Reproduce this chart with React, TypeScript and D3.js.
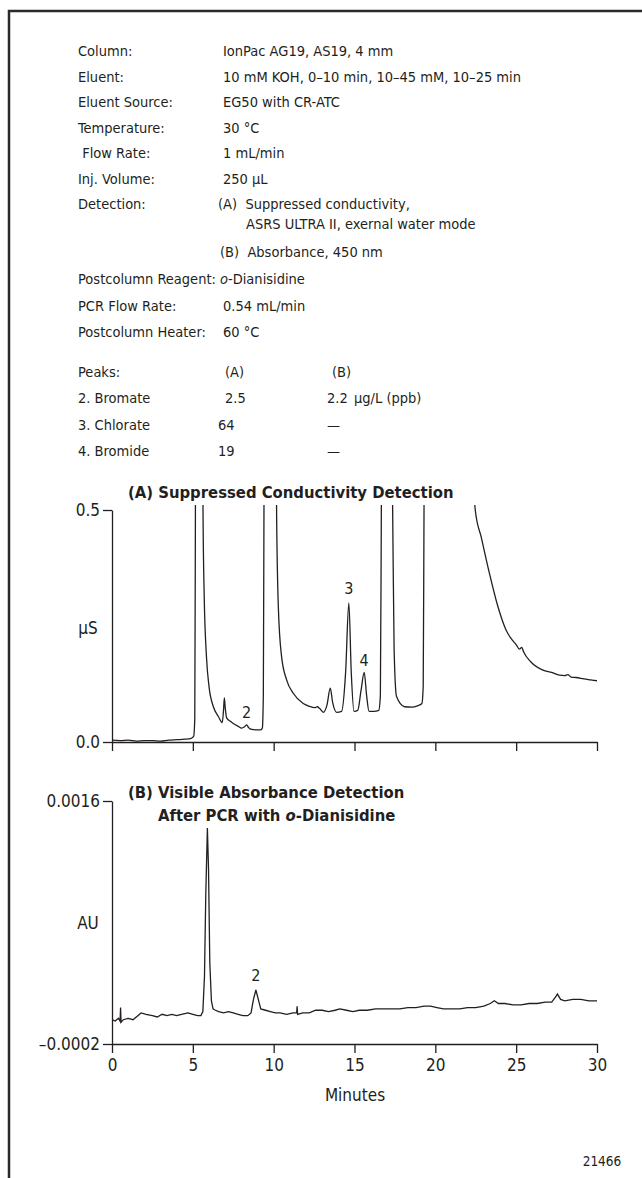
import { useRef, useEffect } from "react";
import * as d3 from "d3";

const conditionLabels = [
  "Column:",
  "Eluent:",
  "Eluent Source:",
  "Temperature:",
  " Flow Rate:",
  "Inj. Volume:",
  "Detection:",
];
const conditionValues = [
  "IonPac AG19, AS19, 4 mm",
  "10 mM KOH, 0–10 min, 10–45 mM, 10–25 min",
  "EG50 with CR-ATC",
  "30 °C",
  "1 mL/min",
  "250 µL",
  "(A)  Suppressed conductivity,",
];

const pcrLabels = ["Postcolumn Reagent:", "PCR Flow Rate:", "Postcolumn Heater:"];
const pcrValues = ["o-Dianisidine", "0.54 mL/min", "60 °C"];

const peakNames = ["2. Bromate", "3. Chlorate", "4. Bromide"];
const peakAmountsA = ["2.5", "64", "19"];
const peakAmountsB = ["2.2", "—", "—"];

const minuteTicks = [0, 5, 10, 15, 20, 25, 30];
const conductivityTicks = [0, 0.5];
const absorbanceTicks = [-0.0002, 0.0016];
const absorbanceTickLabels = ["–0.0002", "0.0016"];

// [minutes, µS]
const conductivityTrace = [
  [0, 0.004], [0.5, 0.003], [1, 0.004], [1.5, 0.002], [2, 0.003], [2.5, 0.003],
  [3, 0.002], [3.5, 0.004], [4, 0.005], [4.5, 0.006], [4.9, 0.008], [5.05, 0.012],
  [5.12, 0.05], [5.16, 0.5], [5.25, 1.5], [5.4, 2.5], [5.55, 1.2], [5.63, 0.5],
  [5.7, 0.32], [5.85, 0.18], [6.0, 0.12], [6.27, 0.076], [6.58, 0.055], [6.82, 0.042],
  [6.9, 0.07], [6.95, 0.095], [7.0, 0.075], [7.09, 0.052], [7.3, 0.045], [7.5, 0.04],
  [7.8, 0.034], [8.02, 0.03], [8.2, 0.033], [8.33, 0.037], [8.45, 0.031], [8.64, 0.027],
  [9.0, 0.026], [9.2, 0.026], [9.3, 0.03], [9.36, 0.1], [9.4, 0.5], [9.6, 2],
  [9.9, 2.5], [10.1, 1], [10.18, 0.5], [10.29, 0.29], [10.49, 0.184], [10.8, 0.134],
  [11.21, 0.105], [11.83, 0.083], [12.2, 0.077], [12.55, 0.074], [12.7, 0.076], [12.85, 0.072],
  [13.07, 0.064], [13.3, 0.08], [13.5, 0.116], [13.65, 0.085], [13.9, 0.064], [14.2, 0.066],
  [14.45, 0.15], [14.65, 0.3], [14.8, 0.15], [14.97, 0.066], [15.2, 0.068], [15.4, 0.11],
  [15.6, 0.15], [15.75, 0.1], [15.9, 0.066], [16.2, 0.066], [16.5, 0.068], [16.6, 0.1],
  [16.66, 0.5], [16.9, 2], [17.1, 1], [17.36, 0.5], [17.45, 0.2], [17.6, 0.098],
  [18.1, 0.076], [18.55, 0.075], [18.9, 0.078], [19.17, 0.083], [19.25, 0.12], [19.3, 0.5],
  [20, 3], [21, 2], [22, 0.8], [22.47, 0.5], [22.85, 0.44], [23.35, 0.363],
  [23.87, 0.292], [24.38, 0.241], [24.75, 0.22], [25.0, 0.21], [25.2, 0.2], [25.35, 0.204],
  [25.45, 0.195], [25.9, 0.173], [26.66, 0.155], [27.2, 0.15], [27.68, 0.144], [28.0, 0.143],
  [28.2, 0.145], [28.4, 0.14], [28.7, 0.139], [29.2, 0.136], [29.6, 0.134], [30, 0.132],
];

// [minutes, AU]
const absorbanceTrace = [
  [0, -0.00002], [0.2, -0.00003], [0.4, -0.00001], [0.5, -0.00003], [0.53, 0.00007], [0.56, -0.00004],
  [0.7, -0.00002], [1.0, -0.00001], [1.3, -0.00002], [1.6, 0.00001], [1.8, 0.00003], [2.1, 0.00002],
  [2.5, 0.00001], [2.8, 0.0], [3.1, 0.00002], [3.4, 0.00001], [3.7, 0.00002], [4.0, 0.00001],
  [4.3, 0.00002], [4.7, 0.00003], [5.0, 0.00002], [5.3, 0.00001], [5.5, 0.00001], [5.62, 0.00004],
  [5.72, 0.0003], [5.8, 0.0009], [5.9, 0.0014], [5.97, 0.0011], [6.05, 0.0004], [6.15, 0.00012],
  [6.25, 0.00006], [6.4, 0.00005], [6.6, 0.00004], [6.9, 0.00003], [7.2, 0.00004], [7.5, 0.00003],
  [7.8, 0.00002], [8.1, 0.00001], [8.4, 0.00001], [8.6, 0.00003], [8.75, 0.00013], [8.9, 0.0002],
  [9.05, 0.00013], [9.2, 0.00006], [9.5, 0.00005], [9.8, 0.00004], [10.1, 0.00003], [10.4, 0.00003],
  [10.8, 0.00002], [11.2, 0.00003], [11.42, 0.00003], [11.45, 0.00008], [11.48, 0.00002], [11.8, 0.00003],
  [12.2, 0.00003], [12.6, 0.00005], [13.0, 0.00005], [13.4, 0.00004], [13.8, 0.00005], [14.1, 0.00006],
  [14.5, 0.00005], [14.9, 0.00004], [15.3, 0.00005], [15.8, 0.00005], [16.3, 0.00006], [16.8, 0.00006],
  [17.3, 0.00006], [17.8, 0.00006], [18.3, 0.00007], [18.8, 0.00007], [19.3, 0.00008], [19.7, 0.00008],
  [20.1, 0.00007], [20.5, 0.00006], [21.0, 0.00006], [21.5, 0.00006], [22.0, 0.00007], [22.5, 0.00007],
  [23.0, 0.00008], [23.4, 0.0001], [23.65, 0.00012], [23.9, 0.0001], [24.3, 0.0001], [24.8, 0.00009],
  [25.3, 0.00009], [25.8, 0.0001], [26.3, 0.0001], [26.8, 0.00011], [27.2, 0.00011], [27.45, 0.00015],
  [27.55, 0.00017], [27.75, 0.00013], [28.0, 0.00012], [28.5, 0.00013], [29.0, 0.00013], [29.5, 0.00012],
  [30, 0.00012],
];

const peakNumbersA = ["2", "3", "4"];
const peakTimesA = [8.33, 14.65, 15.6];
const peakLabelLevelsA = [0.052, 0.319, 0.164];
const peakNumbersB = ["2"];
const peakTimesB = [8.9];
const peakLabelLevelsB = [0.00027];

const W = 642;
const H = 1178;
const font = "'DejaVu Sans Condensed', 'Liberation Sans Narrow', 'Roboto', sans-serif";
const ink = "#231f20";

function App() {
  const svgRef = useRef(null);

  useEffect(() => {
    const svg = d3.select(svgRef.current);
    svg.selectAll("*").remove();

    // frame
    svg.append("path")
      .attr("d", `M9,${H} L9,11 L${W},11`)
      .attr("fill", "none")
      .attr("stroke", "#2a2a2a")
      .attr("stroke-width", 2.5);

    const text = svg.append("g")
      .attr("font-family", font)
      .attr("font-size", 14.5)
      .attr("fill", ink);

    const labelX = 78;
    const valueX = 223;
    const rowGap = 25.5;
    conditionLabels.forEach((l, i) => {
      const y = 56 + i * rowGap;
      text.append("text").attr("x", labelX).attr("y", y).attr("xml:space", "preserve").text(l);
      text.append("text").attr("x", i === 6 ? 218 : valueX).attr("y", y).attr("xml:space", "preserve").text(conditionValues[i]);
    });
    text.append("text").attr("x", 246).attr("y", 229).text("ASRS ULTRA II, exernal water mode");
    text.append("text").attr("x", 220).attr("y", 257).attr("xml:space", "preserve").text("(B)  Absorbance, 450 nm");

    pcrLabels.forEach((l, i) => {
      const y = 284 + i * 26.5;
      text.append("text").attr("x", labelX).attr("y", y).text(l);
      const t = text.append("text").attr("x", i === 0 ? 220 : valueX).attr("y", y);
      if (pcrValues[i].startsWith("o-")) {
        t.append("tspan").attr("font-style", "italic").text("o");
        t.append("tspan").text(pcrValues[i].slice(1));
      } else t.text(pcrValues[i]);
    });

    text.append("text").attr("x", labelX).attr("y", 377).text("Peaks:");
    text.append("text").attr("x", 225).attr("y", 377).text("(A)");
    text.append("text").attr("x", 332).attr("y", 377).text("(B)");
    peakNames.forEach((n, i) => {
      const y = 403 + i * 26.5;
      text.append("text").attr("x", labelX).attr("y", y).text(n);
      text.append("text").attr("x", i === 0 ? 225 : 218).attr("y", y).text(peakAmountsA[i]);
      text.append("text").attr("x", 327).attr("y", y).text(peakAmountsB[i]);
    });
    text.append("text").attr("x", 354).attr("y", 403).text("µg/L (ppb)");

    const x = d3.scaleLinear().domain([0, 30]).range([112, 597]);
    const yA = d3.scaleLinear().domain([0, 0.5]).range([742, 510]);
    const yB = d3.scaleLinear().domain([-0.0002, 0.0016]).range([1044, 801]);

    const styleAxis = (g, size) => {
      g.selectAll("path,line").attr("stroke", ink).attr("stroke-width", 1.3);
      g.selectAll("text").attr("font-family", font).attr("font-size", size).attr("fill", ink);
    };

    // chart A
    svg.append("text")
      .attr("x", 128).attr("y", 498)
      .attr("font-family", font).attr("font-size", 16.5).attr("font-weight", "bold").attr("fill", ink)
      .text("(A) Suppressed Conductivity Detection");

    svg.append("defs").append("clipPath").attr("id", "clipA")
      .append("rect").attr("x", 112).attr("y", 505).attr("width", 490).attr("height", 240);

    svg.append("path")
      .datum(conductivityTrace)
      .attr("clip-path", "url(#clipA)")
      .attr("fill", "none")
      .attr("stroke", ink)
      .attr("stroke-width", 1.3)
      .attr("d", d3.line().x((d) => x(d[0])).y((d) => yA(d[1])).curve(d3.curveMonotoneX));

    svg.append("g").attr("transform", "translate(0,742)")
      .call(d3.axisBottom(x).tickValues(minuteTicks).tickSize(9).tickSizeOuter(0).tickFormat(() => ""))
      .call((g) => styleAxis(g, 17));
    svg.append("g").attr("transform", "translate(112,0)")
      .call(d3.axisLeft(yA).tickValues(conductivityTicks).tickSize(9).tickSizeOuter(0).tickPadding(3).tickFormat(d3.format(".1f")))
      .call((g) => styleAxis(g, 17));
    svg.append("text").attr("x", 88).attr("y", 634).attr("text-anchor", "middle")
      .attr("font-family", font).attr("font-size", 17).attr("fill", ink).text("µS");

    peakNumbersA.forEach((n, i) => {
      svg.append("text").attr("x", x(peakTimesA[i])).attr("y", yA(peakLabelLevelsA[i]))
        .attr("text-anchor", "middle").attr("font-family", font).attr("font-size", 16).attr("fill", ink).text(n);
    });

    // chart B
    const titleB = svg.append("g").attr("font-family", font).attr("font-size", 16.5).attr("font-weight", "bold").attr("fill", ink);
    titleB.append("text").attr("x", 128).attr("y", 798).text("(B) Visible Absorbance Detection");
    const t2 = titleB.append("text").attr("x", 158).attr("y", 821);
    t2.append("tspan").text("After PCR with ");
    t2.append("tspan").attr("font-style", "italic").text("o");
    t2.append("tspan").text("-Dianisidine");

    svg.append("path")
      .datum(absorbanceTrace)
      .attr("fill", "none")
      .attr("stroke", ink)
      .attr("stroke-width", 1.3)
      .attr("d", d3.line().x((d) => x(d[0])).y((d) => yB(d[1])));

    svg.append("g").attr("transform", "translate(0,1044)")
      .call(d3.axisBottom(x).tickValues(minuteTicks).tickSize(9).tickSizeOuter(0).tickPadding(6))
      .call((g) => styleAxis(g, 17));
    svg.append("g").attr("transform", "translate(112,0)")
      .call(d3.axisLeft(yB).tickValues(absorbanceTicks).tickSize(9).tickSizeOuter(0).tickPadding(3)
        .tickFormat((d, i) => absorbanceTickLabels[i]))
      .call((g) => styleAxis(g, 17));
    svg.append("text").attr("x", 88).attr("y", 929).attr("text-anchor", "middle")
      .attr("font-family", font).attr("font-size", 17).attr("fill", ink).text("AU");

    peakNumbersB.forEach((n, i) => {
      svg.append("text").attr("x", x(peakTimesB[i])).attr("y", yB(peakLabelLevelsB[i]))
        .attr("text-anchor", "middle").attr("font-family", font).attr("font-size", 16).attr("fill", ink).text(n);
    });

    svg.append("text").attr("x", 355).attr("y", 1101).attr("text-anchor", "middle")
      .attr("font-family", font).attr("font-size", 17).attr("fill", ink).text("Minutes");
    svg.append("text").attr("x", 602).attr("y", 1166).attr("text-anchor", "middle")
      .attr("font-family", font).attr("font-size", 13.5).attr("fill", ink).text("21466");
  }, []);

  return (
    <svg
      ref={svgRef}
      width={W}
      height={H}
      style={{ position: "absolute", left: 0, top: 0, background: "#fff" }}
    />
  );
}

export default App;
